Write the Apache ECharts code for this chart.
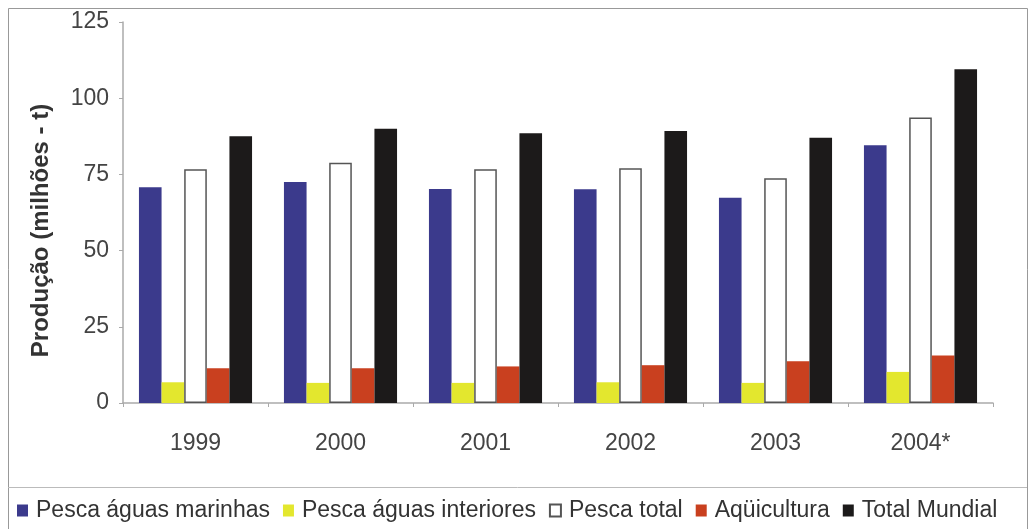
<!DOCTYPE html>
<html>
<head>
<meta charset="utf-8">
<script src="https://cdn.jsdelivr.net/npm/echarts@6/dist/echarts.min.js"></script>
<style>
html,body{margin:0;padding:0;background:#fff;}
#c{width:1034px;height:529px;}
</style>
</head>
<body>
<div id="c"></div>
<script>
var categories = ['1999', '2000', '2001', '2002', '2003', '2004*'];
var seriesNames = ['Pesca águas marinhas', 'Pesca águas interiores', 'Pesca total', 'Aqüicultura', 'Total Mundial'];
var pescaMarinhas = [70.8, 72.5, 70.2, 70.1, 67.3, 84.6];
var pescaInteriores = [6.8, 6.6, 6.6, 6.8, 6.6, 10.2];
var pescaTotal = [76.7, 78.8, 76.7, 77.0, 73.7, 93.7];
var aquicultura = [11.4, 11.4, 12.0, 12.4, 13.7, 15.6];
var totalMundial = [87.5, 90.0, 88.5, 89.2, 87.0, 109.5];
var yTicks = [0, 25, 50, 75, 100, 125];

var font = '"Liberation Sans", Arial, sans-serif';
var colors = ['#3b3a8c', '#e3e72e', '#ffffff', '#c9401f', '#1c1a1a'];
var values = [pescaMarinhas, pescaInteriores, pescaTotal, aquicultura, totalMundial];

var chart = echarts.init(document.getElementById('c'), null, {renderer: 'canvas'});
var series = seriesNames.map(function (n, i) {
  return {
    name: n,
    type: 'bar',
    data: values[i],
    barGap: '0%',
    barCategoryGap: '22%',
    itemStyle: {
      color: colors[i],
      borderColor: i === 2 ? '#555' : colors[i],
      borderWidth: i === 2 ? 1.5 : 0
    }
  };
});

chart.setOption({
  animation: false,
  backgroundColor: '#fff',
  graphic: [
    {type: 'rect', shape: {x: 8.5, y: 8.5, width: 1019, height: 530}, style: {fill: 'none', stroke: '#999', lineWidth: 1}, silent: true, z: -1},
    {type: 'line', shape: {x1: 8, y1: 487.5, x2: 1027, y2: 487.5}, style: {stroke: '#bbb', lineWidth: 1}, silent: true, z: -1}
  ],
  grid: {left: 123, right: 41, top: 22, bottom: 126, containLabel: false},
  legend: {
    data: seriesNames,
    left: 12,
    top: 494,
    itemWidth: 11,
    itemHeight: 12,
    itemGap: 13,
    icon: 'rect',
    textStyle: {fontFamily: font, fontSize: 23, color: '#333', padding: [0, 0, 0, 3]}
  },
  xAxis: {
    type: 'category',
    data: categories,
    axisLine: {show: true, lineStyle: {color: '#aaa', width: 1.5}},
    axisTick: {show: true, length: 4, lineStyle: {color: '#aaa'}},
    axisLabel: {fontFamily: font, fontSize: 23, color: '#444', margin: 29}
  },
  yAxis: {
    type: 'value',
    min: 0,
    max: 125,
    interval: 25,
    name: 'Produção (milhões - t)',
    nameLocation: 'middle',
    nameGap: 70,
    nameTextStyle: {fontFamily: font, fontSize: 24, fontWeight: 'bold', color: '#333', padding: [0, 36, 0, 0]},
    axisLine: {show: true, lineStyle: {color: '#aaa', width: 1.5}},
    axisTick: {show: true, length: 4, lineStyle: {color: '#aaa'}},
    splitLine: {show: false},
    axisLabel: {fontFamily: font, fontSize: 23, color: '#444', margin: 14,
      formatter: function (v) { return yTicks.indexOf(v) >= 0 ? String(v) : ''; }}
  },
  series: series
});
</script>
</body>
</html>
